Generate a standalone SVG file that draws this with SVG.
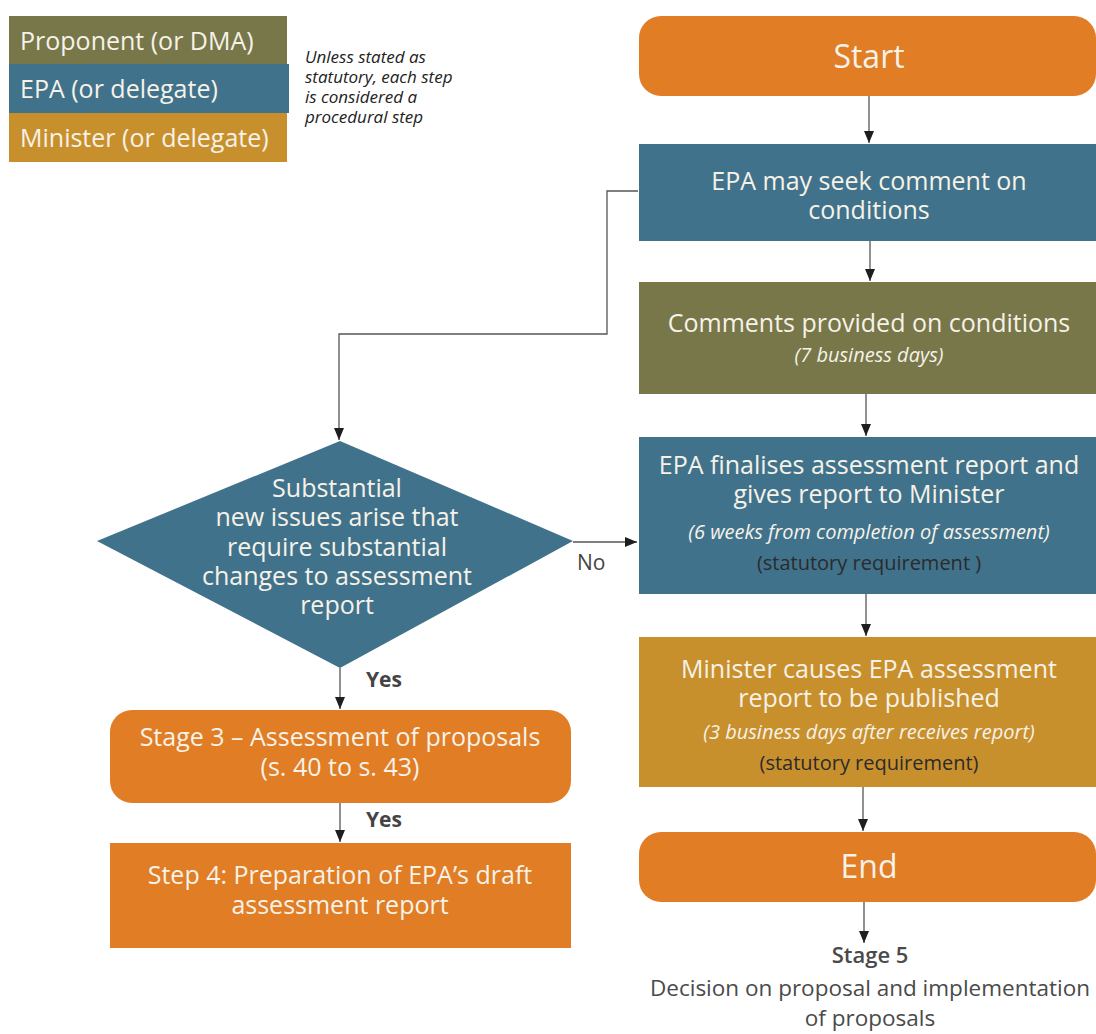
<svg xmlns="http://www.w3.org/2000/svg" width="1096" height="1034" viewBox="0 0 1096 1034">
<style>
text{font-family:"Open Sans","Noto Sans","Liberation Sans",sans-serif;}
.w{fill:#f6f2e8;text-anchor:middle;}
.b{font-size:25px;}
.i{font-size:20px;font-style:italic;}
.d{fill:#2b2b2b;font-size:20px;text-anchor:middle;}
.olive{fill:#77774a;}
.blue{fill:#41728c;}
.gold{fill:#c8902d;}
.orange{fill:#e07d25;}
.c{fill:none;stroke:#555;stroke-width:1.3;}
.lab{font-size:21px;fill:#444;}
</style>
<defs>
<marker id="ah" viewBox="0 0 12 10" refX="12" refY="5" markerWidth="12" markerHeight="10" markerUnits="userSpaceOnUse" orient="auto">
<path d="M0,0 L12,5 L0,10 Z" fill="#1e1e1e"/>
</marker>
</defs>
<rect width="1096" height="1034" fill="#ffffff"/>

<g id="legend">
<rect class="olive" x="9" y="16" width="278" height="48"/>
<rect class="blue" x="9" y="64" width="280" height="49"/>
<rect class="gold" x="9" y="113" width="278" height="49"/>
<text x="20" y="50" font-size="25" fill="#f6f2e8">Proponent (or DMA)</text>
<text x="20" y="98" font-size="25" fill="#f6f2e8">EPA (or delegate)</text>
<text x="20" y="147" font-size="25" fill="#f6f2e8">Minister (or delegate)</text>
</g>
<g id="note">
<text font-size="17" font-style="italic" fill="#222"><tspan x="305" y="63">Unless stated as</tspan><tspan x="305" y="83">statutory, each step</tspan><tspan x="305" y="103">is considered a</tspan><tspan x="305" y="123">procedural step</tspan></text>
</g>

<g id="connectors">
<line class="c" x1="869" y1="96" x2="869" y2="143" marker-end="url(#ah)"/>
<line class="c" x1="870" y1="241" x2="870" y2="281" marker-end="url(#ah)"/>
<line class="c" x1="866" y1="394" x2="866" y2="436" marker-end="url(#ah)"/>
<line class="c" x1="866" y1="594" x2="866" y2="636" marker-end="url(#ah)"/>
<line class="c" x1="863" y1="787" x2="863" y2="831" marker-end="url(#ah)"/>
<line class="c" x1="864" y1="902" x2="864" y2="943" marker-end="url(#ah)"/>
<polyline class="c" points="638,191 607,191 607,334 339,334 339,440" marker-end="url(#ah)"/>
<line class="c" x1="573" y1="542" x2="637" y2="542" marker-end="url(#ah)"/>
<line class="c" x1="340" y1="668" x2="340" y2="709" marker-end="url(#ah)"/>
<line class="c" x1="340" y1="803" x2="340" y2="842" marker-end="url(#ah)"/>
<text class="lab" x="577" y="570" fill="#333">No</text>
<text class="lab" x="366" y="687" font-weight="bold">Yes</text>
<text class="lab" x="366" y="827" font-weight="bold">Yes</text>
</g>

<g id="start">
<rect class="orange" x="639" y="16" width="457" height="80" rx="22"/>
<text class="w" x="869" y="68" font-size="32">Start</text>
</g>

<g id="seek">
<rect class="blue" x="639" y="144" width="457" height="97"/>
<text class="w b"><tspan x="869" y="190">EPA may seek comment on</tspan><tspan x="869" y="219">conditions</tspan></text>
</g>

<g id="comments">
<rect class="olive" x="639" y="282" width="457" height="112"/>
<text class="w"><tspan class="b" x="869" y="332">Comments provided on conditions</tspan><tspan class="i" x="869" y="362">(7 business days)</tspan></text>
</g>

<g id="finalises">
<rect class="blue" x="639" y="437" width="457" height="157"/>
<text class="w"><tspan class="b" x="869" y="474">EPA finalises assessment report and</tspan><tspan class="b" x="869" y="503">gives report to Minister</tspan><tspan class="i" x="869" y="539">(6 weeks from completion of assessment)</tspan><tspan class="d" x="869" y="570">(statutory requirement )</tspan></text>
</g>

<g id="minister">
<rect class="gold" x="639" y="637" width="457" height="150"/>
<text class="w"><tspan class="b" x="869" y="678">Minister causes EPA assessment</tspan><tspan class="b" x="869" y="707">report to be published</tspan><tspan class="i" x="869" y="739">(3 business days after receives report)</tspan><tspan class="d" x="869" y="770">(statutory requirement)</tspan></text>
</g>

<g id="end">
<rect class="orange" x="639" y="832" width="457" height="70" rx="22"/>
<text class="w" x="869" y="878" font-size="32">End</text>
</g>

<g id="stage5">
<text fill="#4a4a4a" text-anchor="middle"><tspan x="870" y="963" font-size="22" font-weight="600">Stage 5</tspan><tspan x="870" y="996" font-size="22.5">Decision on proposal and implementation</tspan><tspan x="870" y="1026" font-size="22.5">of proposals</tspan></text>
</g>

<g id="decision">
<polygon class="blue" points="340,441 573,541 340,668 97,541"/>
<text class="w b"><tspan x="337" y="497">Substantial</tspan><tspan x="337" y="526">new issues arise that</tspan><tspan x="337" y="556">require substantial</tspan><tspan x="337" y="585">changes to assessment</tspan><tspan x="337" y="614">report</tspan></text>
</g>

<g id="stage3">
<rect class="orange" x="110" y="710" width="461" height="93" rx="22"/>
<text class="w b"><tspan x="340" y="746">Stage 3 – Assessment of proposals</tspan><tspan x="340" y="776">(s. 40 to s. 43)</tspan></text>
</g>

<g id="step4">
<rect class="orange" x="110" y="843" width="461" height="105"/>
<text class="w b"><tspan x="340" y="884">Step 4: Preparation of EPA’s draft</tspan><tspan x="340" y="914">assessment report</tspan></text>
</g>
</svg>
